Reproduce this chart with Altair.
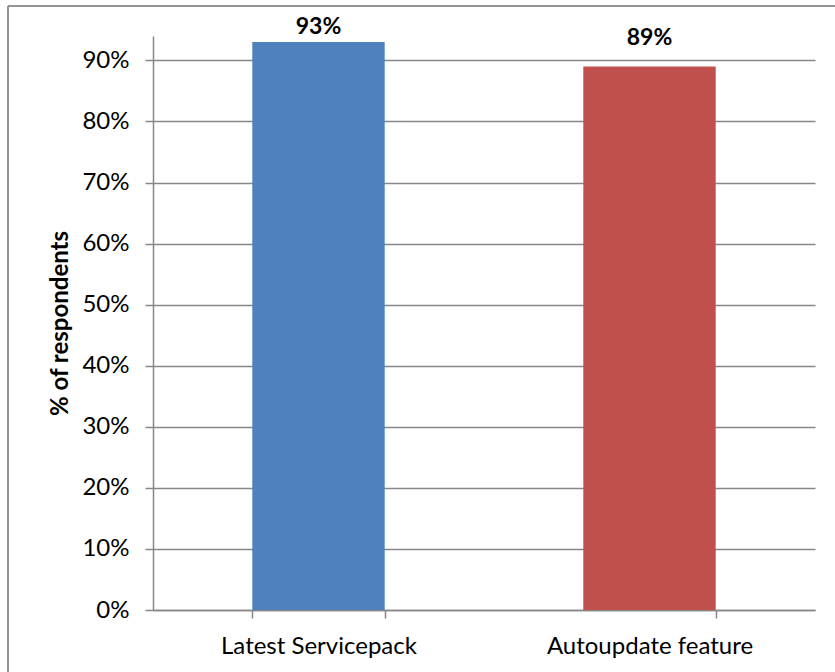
import altair as alt
import pandas as pd

# Share of respondents per update channel
categories = ["Latest Servicepack", "Autoupdate feature"]
shares = [0.93, 0.89]
bar_colors = ["#4F81BD", "#C0504D"]

df = pd.DataFrame({"category": categories, "share": shares})

FONT = "Lato"
GRID = "#878787"

x_enc = alt.X(
    "category:N",
    sort=categories,
    title=None,
    scale=alt.Scale(paddingInner=0.6, paddingOuter=0.3),
    axis=alt.Axis(
        labelAngle=0,
        labelFont=FONT,
        labelFontSize=24,
        labelColor="#000000",
        labelPadding=16,
        labelLimit=500,
        domainColor=GRID,
        domainWidth=1.5,
        tickColor=GRID,
        tickWidth=1.5,
        tickSize=8,
        tickBand="extent",
    ),
)

y_scale = alt.Scale(domain=[0, 0.94], nice=False)

bars = (
    alt.Chart(df)
    .mark_bar()
    .encode(
        x=x_enc,
        y=alt.Y(
            "share:Q",
            scale=y_scale,
            axis=alt.Axis(
                format=".0%",
                values=[i / 10 for i in range(10)],
                title="% of respondents",
                titleFont=FONT,
                titleFontSize=24,
                titleFontWeight="bold",
                titleColor="#000000",
                titleX=-93,
                titleY=287,
                titleAlign="center",
                titleBaseline="middle",
                labelFont=FONT,
                labelFontSize=24,
                labelColor="#000000",
                labelPadding=16,
                domainColor=GRID,
                domainWidth=1.5,
                tickColor=GRID,
                tickWidth=1.5,
                tickSize=8,
                gridColor=GRID,
                gridWidth=1.5,
            ),
        ),
        color=alt.Color(
            "category:N",
            sort=categories,
            scale=alt.Scale(domain=categories, range=bar_colors),
            legend=None,
        ),
    )
)

# Value labels sit above each bar, kept below the top edge of the frame
labels = (
    alt.Chart(df)
    .transform_calculate(
        label_y="min(datum.share + 0.047, 0.955)",
        label="format(datum.share, '.0%')",
    )
    .mark_text(font=FONT, fontSize=23, fontWeight="bold", color="#000000", baseline="middle")
    .encode(
        x=alt.X("category:N", sort=categories),
        y=alt.Y("label_y:Q", scale=y_scale),
        text="label:N",
    )
)

# Outer chart frame (top and left edges)
frame_top = alt.Chart(df).mark_rule(color="#8C8C8C", strokeWidth=1.5).encode(
    x=alt.value(-145), x2=alt.value(720), y=alt.value(-30)
)
frame_left = alt.Chart(df).mark_rule(color="#8C8C8C", strokeWidth=1.5).encode(
    x=alt.value(-145), y=alt.value(-30), y2=alt.value(700)
)

chart = (
    alt.layer(frame_top, frame_left, bars, labels)
    .properties(
        width=662,
        height=574,
        autosize=alt.AutoSizeParams(type="none"),
        padding={"left": 153, "top": 36, "right": 20, "bottom": 62},
        background="#FFFFFF",
    )
    .configure_view(stroke=None)
)

chart.save("out.html", embed_options={"renderer": "svg", "actions": False})
